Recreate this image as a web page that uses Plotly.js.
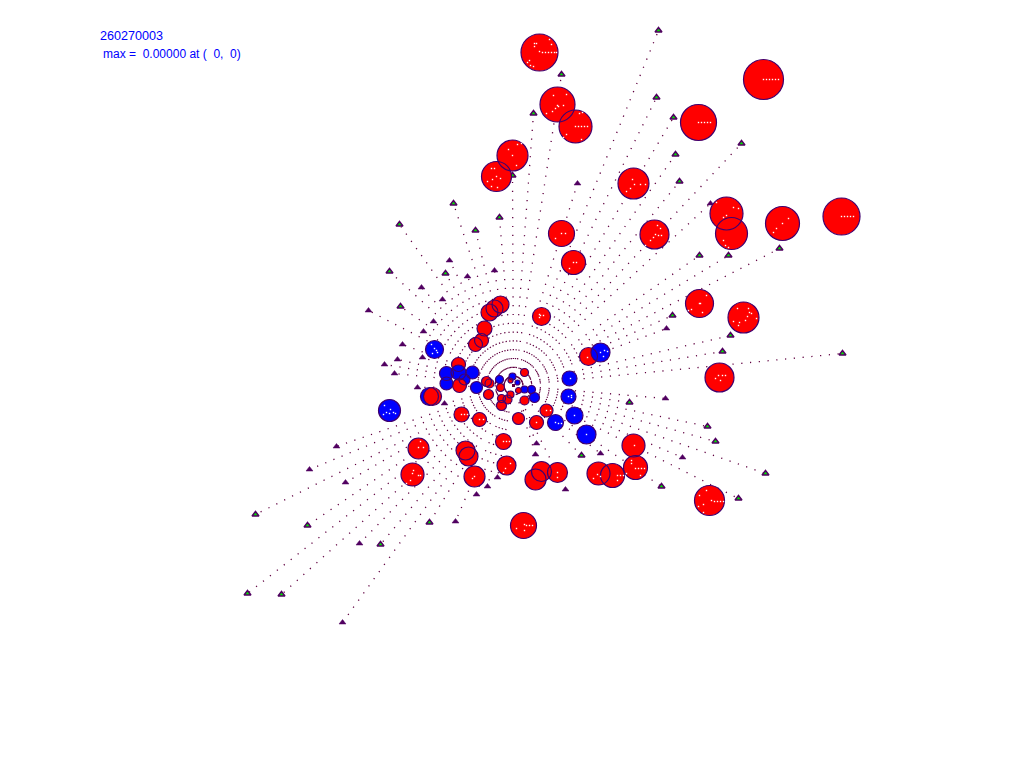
<!DOCTYPE html>
<html>
<head>
<meta charset="utf-8">
<script src="https://cdn.plot.ly/plotly-3.0.1.min.js"></script>
<style>html,body{margin:0;padding:0;background:#fff}#chart{width:1024px;height:768px}</style>
</head>
<body>
<div id="chart"></div>
<script>
const centerX = 513, centerY = 385;

const greenTriX = [561,533,512,453,499,656,741,675,679,399,475,389,699,728,779,400,445,672,730,722,842,629,707,715,765,661,738,581,255,307,380,247,281,658,673,429];
const greenTriY = [74,113,175,203,217,97,143,154,181,224,230,271,255,255,248,306,273,315,335,351,353,402,426,441,473,486,498,455,514,525,544,593,594,30,117,522];
const darkTriX = [577,710,449,467,494,421,442,368,433,423,402,397,422,384,394,417,444,666,665,536,535,600,682,565,497,487,476,455,359,342,345,309,336];
const darkTriY = [183,203,260,276,270,287,299,310,321,331,344,359,357,364,373,387,403,328,398,443,454,453,457,489,477,486,494,521,543,622,482,469,446];

const circleX = [539,557,575,512,496,633,763,698,841,782,726,731,654,561,573,699,743,719,541,588,600,569,568,574,586,555,536,546,633,635,598,612,557,541,535,709,523,412,418,465,468,474,506,503,461,479,518,389,429,432,458,446,446,458,472,464,459,476,486,489,488,499,500,512,524,510,517,518,524,531,534,524,510,507,501,501,434,500,494,489,484,481,475];
const circleY = [52,104,126,155,176,183,79,122,216,223,213,233,234,233,262,303,317,377,316,356,352,378,396,415,434,422,422,410,445,467,473,475,472,471,479,500,525,474,448,450,456,476,465,441,414,419,418,410,396,396,364,373,383,372,372,379,385,387,381,383,394,379,387,376,372,380,382,390,389,389,397,400,394,399,398,405,349,304,308,312,328,340,344];
const circleD = [37,35,33,31,30,31,40,36,37,34,33,32,29,26,24,28,31,29,18,18,19,15,15,17,19,16,14,13,23,24,23,24,20,20,21,30,26,23,21,19,19,21,19,16,15,14,12,22,18,18,14,14,13,15,13,11,14,12,10,9,10,8,8,7,8,5,5,6,7,8,10,9,7,9,8,10,18,17,17,17,15,14,14];
const circleKind = ['r','r','r','r','r','r','r','r','r','r','r','r','r','r','r','r','r','r','r','r','b','b','b','b','b','b','r','r','r','r','r','r','r','r','r','r','r','r','r','r','r','r','r','r','r','r','r','b','b','r','r','b','b','b','b','b','r','b','r','r','r','b','r','b','r','r','b','r','b','b','b','r','r','r','r','r','b','r','r','r','r','r','r'];

const speckX = [534,536,534,549,551,539,542,545,548,551,554,556,529,530,533,527,557,558,555,552,546,553,566,563,575,578,581,584,587,563,566,579,582,581,508,517,521,512,516,491,494,496,500,492,487,491,497,632,634,640,645,630,626,650,653,655,658,661,645,657,660,726,723,716,738,733,723,728,725,699,700,706,702,691,688,737,748,751,747,745,756,739,733,738,749,722,725,715,720,718,711,714,717,720,723,706,703,698,703,699,635,638,641,644,631,631,626,640,634,617,620,623,617,597,593,600,557,557,412,418,420,410,406,413,418,423,420,474,472,505,503,510,503,506,509,461,464,467,479,483,524,526,529,532,516,524,390,393,395,384,386,389,383,431,434,437,436,432,540,543,539,539,600,604,607,603,587,586,574,555,558,561,568,571,571,570,536,546,550,763,766,769,772,775,778,698,701,704,707,710,841,844,847,850,853,782,776,788,773,561,565,555,573,576,569];
const speckY = [43,43,46,39,44,51,52,52,52,52,52,52,60,65,66,62,105,106,108,111,113,95,94,105,126,126,126,126,126,137,134,113,112,139,149,144,143,155,165,168,168,176,178,179,181,186,187,179,184,184,184,188,191,240,237,234,235,235,245,225,228,215,217,202,208,207,240,247,245,303,303,295,312,309,310,308,308,313,316,320,318,322,321,325,312,375,375,378,380,375,500,501,501,501,501,490,504,506,512,495,468,468,468,468,463,460,473,475,445,475,475,475,480,474,478,476,472,477,473,475,475,480,483,470,447,447,441,476,478,468,472,463,441,441,441,414,414,414,419,419,524,525,525,525,528,530,409,412,413,405,412,413,414,344,348,352,350,353,315,315,314,317,352,350,351,356,357,434,415,422,423,423,396,395,397,378,422,410,410,79,79,79,79,79,79,122,122,122,122,122,216,216,216,216,216,223,228,218,232,233,233,238,262,262,268];

const allTriX = greenTriX.concat(darkTriX);
const allTriY = greenTriY.concat(darkTriY);
const rayX = [], rayY = [];
allTriX.forEach((x, i) => { rayX.push(centerX, x, null); rayY.push(centerY, allTriY[i], null); });

const kindColor = {r: '#ff0000', b: '#0000ff'};
const outline = '#40006e';
const traces = [
  {type:'scatter', mode:'lines', x:rayX, y:rayY, hoverinfo:'skip',
   line:{color:'#600040', width:1.3, dash:'1.2px,7.6px'}},
  {type:'scatter', mode:'markers', x:greenTriX, y:greenTriY, hoverinfo:'skip',
   marker:{symbol:'triangle-up', size:6, opacity:1, color:'#00e000', line:{color:'#500060', width:1.5}}},
  {type:'scatter', mode:'markers', x:darkTriX, y:darkTriY, hoverinfo:'skip',
   marker:{symbol:'triangle-up', size:6, opacity:1, color:'#500060', line:{color:'#500060', width:0.5}}},
  {type:'scatter', mode:'markers', x:circleX, y:circleY, hoverinfo:'skip',
   marker:{symbol:'circle', size:circleD, sizemode:'diameter', opacity:1, color:circleKind.map(k => kindColor[k]), line:{width:0}}},
  {type:'scatter', mode:'markers', x:circleX, y:circleY, hoverinfo:'skip',
   marker:{symbol:'circle', size:circleD, sizemode:'diameter', opacity:1, color:'rgba(0,0,0,0)', line:{color:outline, width:1.2}}},
  {type:'scatter', mode:'markers', x:speckX, y:speckY, hoverinfo:'skip',
   marker:{symbol:'square', size:1.4, opacity:1, color:'#ffffff', line:{width:0}}}
];
const labelFont = {family:'"Liberation Sans", Arial, sans-serif', size:12.6, color:'#0000ff'};
const maxFont = {family:'"Liberation Sans", Arial, sans-serif', size:12, color:'#0000ff'};
const layout = {
  width:1024, height:768, autosize:false, showlegend:false,
  margin:{l:0, r:0, t:0, b:0},
  paper_bgcolor:'#ffffff', plot_bgcolor:'#ffffff',
  xaxis:{range:[-0.5,1023.5], visible:false, fixedrange:true},
  yaxis:{range:[767.5,-0.5], visible:false, fixedrange:true},
  annotations:[
    {x:97, y:35, xref:'x', yref:'y', xanchor:'left', yanchor:'middle', showarrow:false, text:'260270003', font:labelFont},
    {x:100, y:53, xref:'x', yref:'y', xanchor:'left', yanchor:'middle', showarrow:false, text:'max =  0.00000 at (  0,  0)', font:maxFont}
  ]
};
Plotly.newPlot('chart', traces, layout, {displayModeBar:false, staticPlot:true});
</script>
</body>
</html>
